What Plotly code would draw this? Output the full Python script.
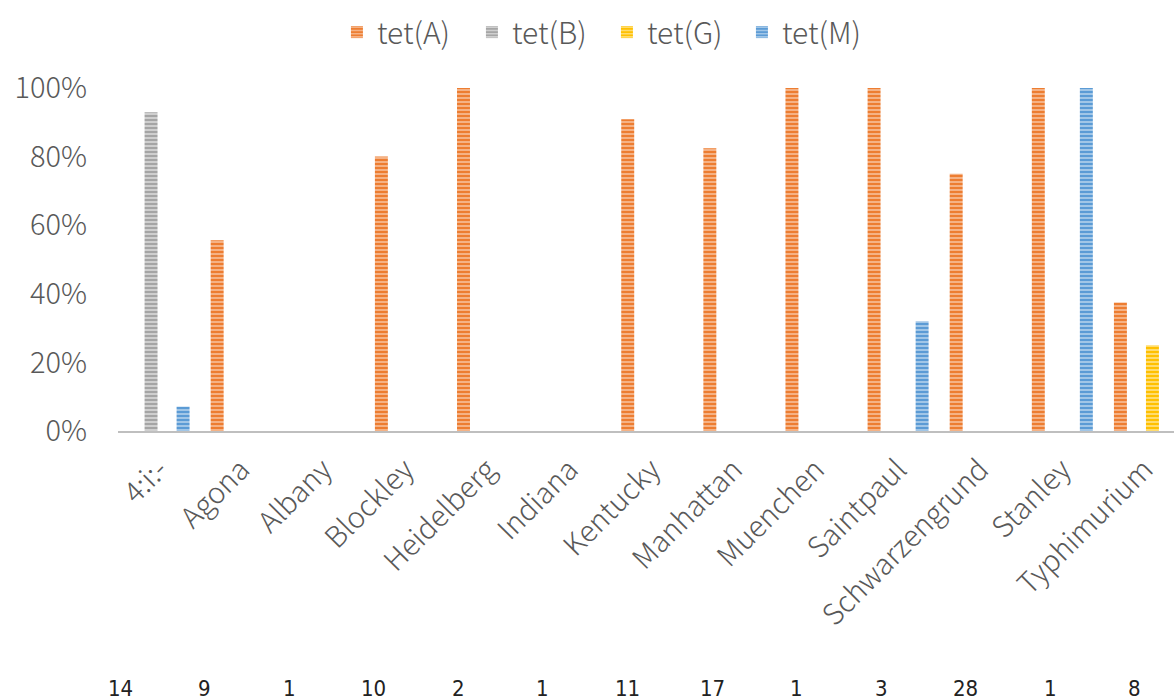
import plotly.graph_objects as go

# Serovars and number of isolates per serovar
categories = ["4:i:-", "Agona", "Albany", "Blockley", "Heidelberg", "Indiana",
              "Kentucky", "Manhattan", "Muenchen", "Saintpaul", "Schwarzengrund",
              "Stanley", "Typhimurium"]
isolate_counts = [14, 9, 1, 10, 2, 1, 11, 17, 1, 3, 28, 1, 8]

# Share of isolates carrying each tet gene
tet_a = [0, 0.556, 0, 0.80, 1.0, 0, 0.909, 0.824, 1.0, 1.0, 0.75, 1.0, 0.375]
tet_b = [0.929, 0, 0, 0, 0, 0, 0, 0, 0, 0, 0, 0, 0]
tet_g = [0, 0, 0, 0, 0, 0, 0, 0, 0, 0, 0, 0, 0.25]
tet_m = [0.071, 0, 0, 0, 0, 0, 0, 0, 0, 0.32, 0, 1.0, 0]

series = [
    ("tet(A)", tet_a, "#ED7D31", "#F6B88F"),
    ("tet(B)", tet_b, "#A5A5A5", "#D4D4D4"),
    ("tet(G)", tet_g, "#FFC000", "#FFE07A"),
    ("tet(M)", tet_m, "#5B9BD5", "#A9CBEA"),
]

W, H = 1174, 700
LEFT, TOP, BOTTOM = 118, 88, 269

fig = go.Figure()
for name, vals, base, light in series:
    fig.add_trace(go.Bar(
        name=name,
        x=categories,
        y=vals,
        marker=dict(
            color=base,
            line=dict(width=0),
            pattern=dict(shape="-", fillmode="replace", bgcolor=base,
                         fgcolor=light, size=4, solidity=0.45),
        ),
    ))

TEXT_GRAY = "#595959"
FONT = "Noto Sans CJK JP"

fig.update_layout(
    width=W, height=H,
    margin=dict(l=LEFT, r=0, t=TOP, b=BOTTOM, pad=0),
    paper_bgcolor="white",
    plot_bgcolor="white",
    barmode="group",
    bargap=0.22,
    bargroupgap=0.19,
    font=dict(family=FONT, color=TEXT_GRAY),
    legend=dict(
        orientation="h",
        x=0.463, xanchor="center",
        y=1.163, yanchor="middle",
        font=dict(size=30, color=TEXT_GRAY, family=FONT, weight=300),
        itemwidth=30,
        entrywidth=90,
        bgcolor="rgba(0,0,0,0)",
    ),
    xaxis=dict(
        type="category",
        range=[-0.5, 12.36],
        showline=True, linecolor="#BFBFBF", linewidth=2,
        showgrid=False, zeroline=False,
        ticks="", tickangle=-45,
        tickfont=dict(size=29, color=TEXT_GRAY, family=FONT, weight=300),
        ticklabelstandoff=8,
    ),
    yaxis=dict(
        range=[0, 1.0],
        showgrid=False, zeroline=False, showline=False,
        tickvals=[0, 0.2, 0.4, 0.6, 0.8, 1.0],
        tickformat=".0%",
        ticks="",
        tickfont=dict(size=29, color=TEXT_GRAY, family=FONT, weight=300),
        ticklabelstandoff=30,
    ),
)

# Row of isolate counts beneath the serovar names
plot_w = W - LEFT
plot_h = H - TOP - BOTTOM
count_y = -(688 - (H - BOTTOM)) / plot_h
for i, n in enumerate(isolate_counts):
    px = 120 + i * 84.58
    fig.add_annotation(
        x=(px - LEFT) / plot_w, y=count_y,
        xref="paper", yref="paper",
        text=str(n), showarrow=False,
        xanchor="center", yanchor="middle",
        font=dict(size=22, color="#222222",
                  family="DejaVu Sans Condensed, Liberation Sans"),
    )

fig.write_html("out.html")
